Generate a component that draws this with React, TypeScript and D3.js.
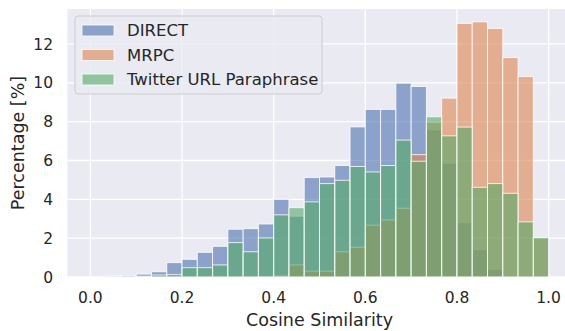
import React from 'react';
import * as d3 from 'd3';

// 30 bins from 0 to 1, values in percent
const binEdges = d3.range(31).map(i => i / 30);
const direct = [0, 0.05, 0.08, 0.15, 0.27, 0.74, 0.91, 1.27, 1.58, 2.46, 2.49, 2.73, 4.0, 3.13, 5.12, 5.15, 5.74, 7.73, 8.63, 8.63, 9.98, 9.81, 7.58, 5.86, 2.8, 1.41, 0.4, 0.05, 0, 0];
const mrpc = [0, 0, 0, 0, 0, 0, 0, 0, 0, 0, 0, 0.02, 0.05, 0.62, 0.3, 0.3, 1.3, 1.53, 2.67, 2.94, 3.54, 6.3, 7.95, 9.21, 13.06, 13.14, 12.8, 11.3, 10.32, 2.0];
const twitter = [0, 0, 0.01, 0.04, 0.1, 0.12, 0.48, 0.48, 0.62, 1.77, 1.3, 2.01, 3.2, 3.57, 3.87, 4.81, 4.98, 5.69, 5.41, 5.74, 7.05, 5.96, 8.25, 7.27, 7.72, 4.62, 4.81, 4.31, 2.84, 2.03];
const seriesNames = ['DIRECT', 'MRPC', 'Twitter URL Paraphrase'];
const seriesColors = ['#4C72B0', '#DD8452', '#55A868'];
const xTicks = [0, 0.2, 0.4, 0.6, 0.8, 1.0];
const yTicks = [0, 2, 4, 6, 8, 10, 12];

export default function App() {
  const W = 565, H = 331;
  const left = 67.5, top = 9, bottom = 277;
  const x = d3.scaleLinear().domain([-0.05, 1.05]).range([left, left + 504]);
  const y = d3.scaleLinear().domain([0, 13.8]).range([bottom, top]);
  const font = 'DejaVu Sans, sans-serif';
  const series = [direct, mrpc, twitter];

  return (
    <svg width={W} height={H} style={{ position: 'absolute', left: 0, top: 0 }} fontFamily={font}>
      <rect x={left} y={top} width={W - left} height={bottom - top} fill="#EAEAF2" />
      {/* grid */}
      {xTicks.map(t => (
        <line key={'gx' + t} x1={x(t)} x2={x(t)} y1={top} y2={bottom} stroke="#fff" strokeWidth={1.3} />
      ))}
      {yTicks.map(t => (
        <line key={'gy' + t} x1={left} x2={W} y1={y(t)} y2={y(t)} stroke="#fff" strokeWidth={1.3} />
      ))}
      {/* bars */}
      {series.map((vals, s) => (
        <g key={'s' + s}>
          {vals.map((v, i) => v > 0 && (
            <rect key={i}
              x={x(binEdges[i])} width={x(binEdges[i + 1]) - x(binEdges[i])}
              y={y(v)} height={y(0) - y(v)}
              fill={seriesColors[s]} fillOpacity={0.6}
              stroke="#fff" strokeOpacity={0.8} strokeWidth={1} />
          ))}
        </g>
      ))}
      {/* x ticks */}
      {xTicks.map(t => (
        <text key={'tx' + t} x={x(t)} y={303} textAnchor="middle" fontSize={15.5} fill="#262626">{d3.format('.1f')(t)}</text>
      ))}
      {yTicks.map(t => (
        <text key={'ty' + t} x={53} y={y(t)} dy="0.36em" textAnchor="end" fontSize={15.5} fill="#262626">{t}</text>
      ))}
      <text x={(x(0) + x(1)) / 2} y={326} textAnchor="middle" fontSize={17.5} fill="#262626">Cosine Similarity</text>
      <text transform={`translate(24, ${(top + bottom) / 2}) rotate(-90)`} textAnchor="middle" fontSize={17.5} fill="#262626">Percentage [%]</text>
      {/* legend */}
      <rect x={75} y={16} width={247} height={78} rx={3} fill="#EAEAF2" fillOpacity={0.8} stroke="#cccccc" strokeWidth={1} />
      {seriesNames.map((n, i) => (
        <g key={n} transform={`translate(0, ${30.5 + i * 24.5})`}>
          <rect x={82} y={-5.5} width={32} height={11} fill={seriesColors[i]} fillOpacity={0.6} stroke="#fff" strokeOpacity={0.8} />
          <text x={127} y={0} dy="0.36em" fontSize={16.5} fill="#262626">{n}</text>
        </g>
      ))}
    </svg>
  );
}
